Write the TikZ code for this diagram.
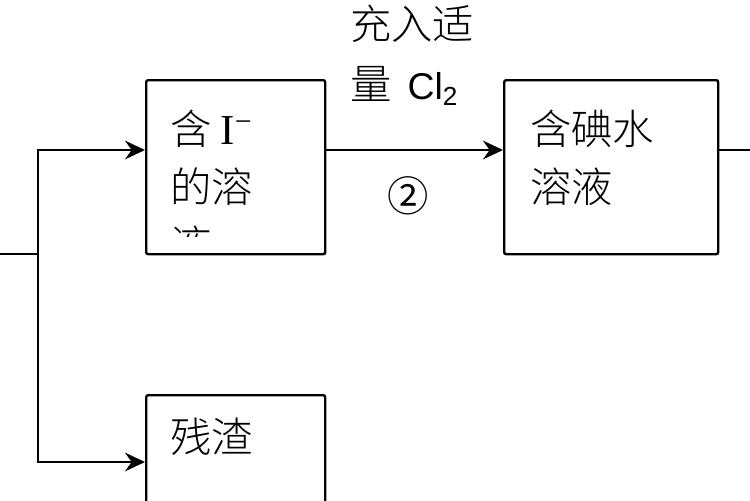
\documentclass[tikz,border=0pt]{standalone}
\usepackage{fontspec}
\setmainfont{Noto Sans CJK SC Light}
\newfontfamily\cjkreg{Noto Sans CJK SC}
\newfontfamily\latinserif{Liberation Serif}
\newfontfamily\latinsans{Liberation Sans}
\usetikzlibrary{arrows.meta}
\begin{document}
\begin{tikzpicture}[x=0.75pt,y=-0.75pt,
  box/.style={draw,line width=1.8pt,rounded corners=1.5pt,inner sep=0pt,anchor=north west},
  ln/.style={line width=1.8pt},
  arr/.style={ln,-{Stealth[length=15pt,width=14pt,inset=5pt]}},
  txt/.style={anchor=base west,inner sep=0pt,font=\fontsize{31}{31}\selectfont}]
\useasboundingbox (0,0) rectangle (750,500);
\clip (0,0) rectangle (750,500);
\node[box, minimum width=134.25pt, minimum height=130.5pt] (b1) at (145,79) {};
\node[box, minimum width=160.5pt, minimum height=130.5pt] (b2) at (503,79) {};
\node[box, minimum width=134.25pt, minimum height=130.5pt] (b3) at (145,394) {};
\begin{scope}
\clip (147,81) rectangle (322,236);
\node[txt] (t1a) at (170,144) {含 {\latinserif\fontsize{32}{32}\selectfont I\textsuperscript{−}}};
\node[txt] (t1b) at (170,202) {的溶};
\node[txt] (t1c) at (170,260) {液};
\end{scope}
\node[txt] (t2a) at (530,144) {含碘水};
\node[txt] (t2b) at (530,202) {溶液};
\node[txt] (t3a) at (170,452) {残渣};
\node[txt] (l1) at (350,39) {充入适};
\node[txt] (l2) at (350,99) {量\hspace{12pt}{\latinsans\fontsize{28}{28}\selectfont Cl\textsubscript{2}}};
\node[txt, anchor=center, font=\cjkreg\fontsize{31}{31}\selectfont] (l3) at (408,196) {②};
\coordinate (in) at (0,254);
\coordinate (j) at (38,254);
\coordinate (top) at (38,150);
\coordinate (bot) at (38,462);
\coordinate (out) at (750,150);
\draw[ln] (in) -- (j);
\draw[arr] (j) -- (top) -- (top -| b1.west);
\draw[arr] (j) -- (bot) -- (bot -| b3.west);
\draw[arr] (top -| b1.east) -- (top -| b2.west);
\draw[ln] (top -| b2.east) -- (out);
\end{tikzpicture}
\end{document}
